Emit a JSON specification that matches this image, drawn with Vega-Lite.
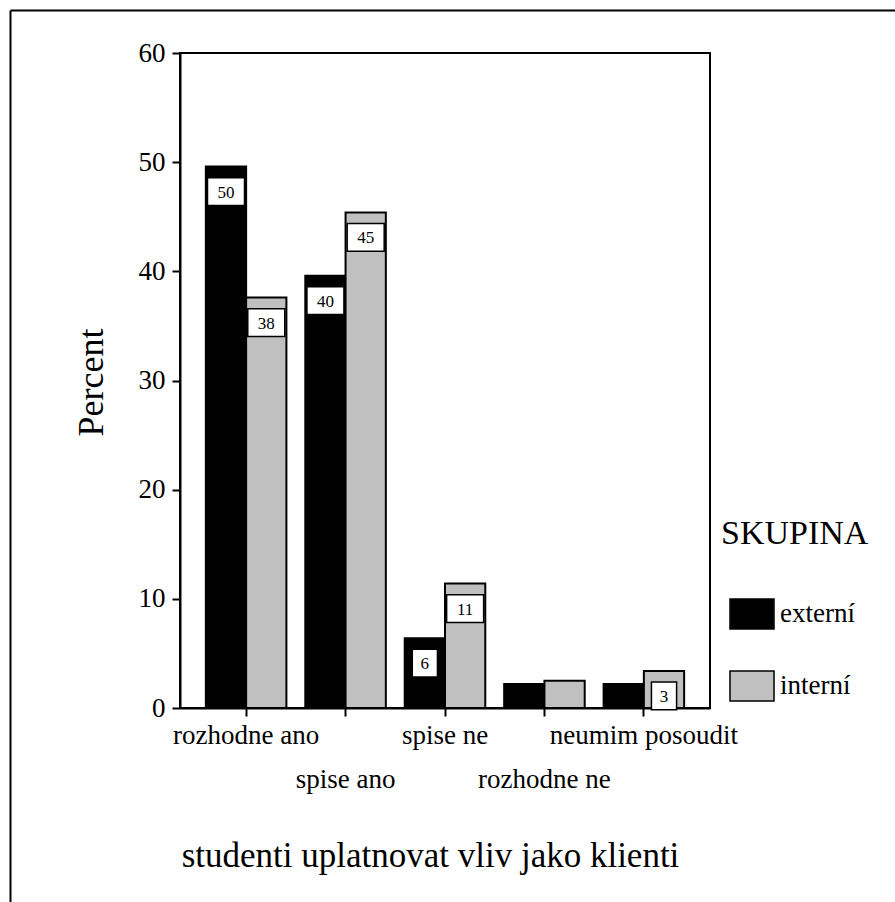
{
  "$schema": "https://vega.github.io/schema/vega-lite/v6.json",
  "width": 530,
  "height": 655,
  "autosize": {"type": "none"},
  "padding": {"left": 180, "top": 53, "right": 185, "bottom": 194},
  "background": "white",
  "config": {
    "font": "Liberation Serif, Times New Roman, serif",
    "view": {"stroke": "black", "strokeWidth": 2},
    "axis": {"grid": false, "domainColor": "black", "domainWidth": 2, "tickColor": "black", "tickWidth": 2, "tickSize": 8, "labelColor": "black", "titleColor": "black", "labelFont": "Liberation Serif, Times New Roman, serif", "titleFont": "Liberation Serif, Times New Roman, serif", "titleFontWeight": "normal"},
    "legend": {"labelFont": "Liberation Serif, Times New Roman, serif", "titleFont": "Liberation Serif, Times New Roman, serif", "titleFontWeight": "normal"},
    "text": {"font": "Liberation Serif, Times New Roman, serif"}
  },
  "data": {
    "values": [
      {"cat": "rozhodne ano", "grp": "externí", "v": 49.6},
      {"cat": "rozhodne ano", "grp": "interní", "v": 37.6},
      {"cat": "spise ano", "grp": "externí", "v": 39.6},
      {"cat": "spise ano", "grp": "interní", "v": 45.4},
      {"cat": "spise ne", "grp": "externí", "v": 6.4},
      {"cat": "spise ne", "grp": "interní", "v": 11.4},
      {"cat": "rozhodne ne", "grp": "externí", "v": 2.2},
      {"cat": "rozhodne ne", "grp": "interní", "v": 2.5},
      {"cat": "neumim posoudit", "grp": "externí", "v": 2.2},
      {"cat": "neumim posoudit", "grp": "interní", "v": 3.4}
    ]
  },
  "layer": [
    {
      "encoding": {
        "x": {
          "field": "cat", "type": "nominal",
          "sort": ["rozhodne ano", "spise ano", "spise ne", "rozhodne ne", "neumim posoudit"],
          "scale": {"domain": ["rozhodne ano", "spise ano", "spise ne", "rozhodne ne", "neumim posoudit"], "paddingInner": 0.19, "paddingOuter": 0.26},
          "axis": {
            "title": "studenti uplatnovat vliv jako klienti",
            "titleFontSize": 35, "titleX": 250, "titleY": 147, "titleAlign": "center", "titleBaseline": "middle", "titleAnchor": null,
            "labelAngle": 0, "labelFontSize": 27, "labelPadding": 6, "labelLineHeight": 44, "labelBaseline": "top",
            "labelOverlap": false, "labelBound": false, "labelLimit": 0, "bandPosition": 0.5,
            "labelExpr": "indexof(['spise ano','rozhodne ne'], datum.value) >= 0 ? ['', datum.label] : datum.label"
          }
        },
        "xOffset": {"field": "grp", "type": "nominal", "scale": {"domain": ["externí", "interní"], "paddingInner": 0, "paddingOuter": 0}},
        "y": {
          "field": "v", "type": "quantitative",
          "scale": {"domain": [0, 60], "nice": false},
          "axis": {
            "values": [0, 10, 20, 30, 40, 50, 60],
            "title": "Percent", "titleFontSize": 36, "titleAngle": -90, "titleX": -78, "titleY": 329, "titleAlign": "center", "titleBaseline": "alphabetic",
            "labelFontSize": 27, "labelPadding": 7
          }
        }
      },
      "layer": [
        {
          "mark": {"type": "bar", "stroke": "black", "strokeWidth": 2},
          "encoding": {
            "color": {
              "field": "grp", "type": "nominal",
              "scale": {"domain": ["externí", "interní"], "range": ["#000000", "#c0c0c0"]},
              "legend": {
                "orient": "none", "legendX": 541, "legendY": 464, "padding": 0,
                "title": "SKUPINA", "titleFontSize": 34, "titlePadding": 40, "titleColor": "black",
                "labelFontSize": 27, "labelColor": "black", "labelOffset": 5,
                "symbolType": "M-1,-0.68H1V0.68H-1Z", "symbolSize": 1936, "symbolOffset": 8,
                "symbolStrokeColor": "black", "symbolStrokeWidth": 1.5, "symbolOpacity": 1,
                "rowPadding": 31
              }
            }
          }
        },
        {
          "transform": [{"filter": "datum.v >= 3"}],
          "mark": {"type": "point", "filled": true, "fill": "white", "stroke": "black", "strokeWidth": 1.5, "opacity": 1, "size": 1369, "yOffset": 25},
          "encoding": {
            "shape": {"condition": {"test": "datum.v < 9.5", "value": "M-0.68,-0.75H0.68V0.75H-0.68Z"}, "value": "M-1,-0.75H1V0.75H-1Z"}
          }
        },
        {
          "transform": [{"filter": "datum.v >= 3"}],
          "mark": {"type": "text", "fontSize": 17, "baseline": "middle", "align": "center", "yOffset": 26, "color": "black", "font": "Liberation Serif, Times New Roman, serif"},
          "encoding": {"text": {"field": "v", "type": "quantitative", "format": ".0f"}}
        }
      ]
    },
    {
      "mark": {"type": "point", "opacity": 0},
      "encoding": {
        "x": {"datum": 0, "type": "quantitative", "scale": {"domain": [0, 1], "range": [-170, 715]}, "axis": {"orient": "top", "offset": 43, "ticks": false, "labels": false, "title": null, "grid": false, "domainColor": "black", "domainWidth": 2}},
        "y": {"datum": 0, "type": "quantitative", "scale": {"domain": [0, 1], "range": [849, -43]}, "axis": {"orient": "left", "offset": 170, "ticks": false, "labels": false, "title": null, "grid": false, "domainColor": "black", "domainWidth": 2}}
      }
    }
  ],
  "resolve": {"scale": {"x": "independent", "y": "independent"}}
}
